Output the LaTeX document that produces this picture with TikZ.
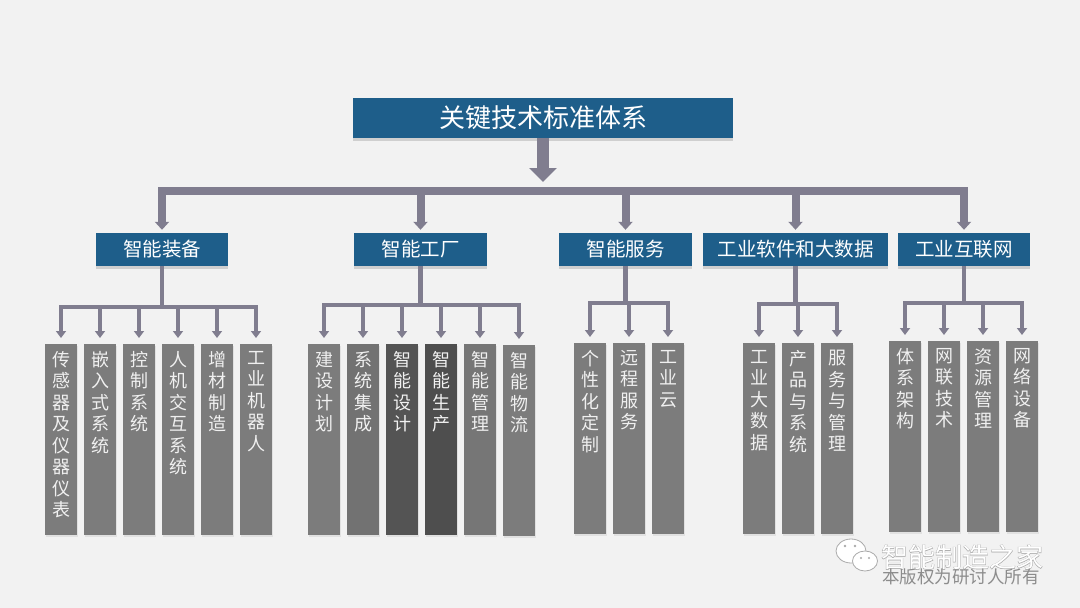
\documentclass[tikz,border=0pt]{standalone}
\usepackage{fontspec}
\setmainfont{Noto Sans CJK SC}
\newfontfamily\wmfat[FakeBold=2.5]{Noto Sans CJK SC}
\usetikzlibrary{arrows.meta,shadows}
\definecolor{bg}{RGB}{242,242,242}
\definecolor{navy}{RGB}{30,94,138}
\definecolor{conn}{RGB}{128,125,143}
\definecolor{leafg}{RGB}{124,124,124}
\definecolor{leafm}{RGB}{114,114,114}
\definecolor{leafd}{RGB}{84,84,84}
\definecolor{leafe}{RGB}{78,78,78}
\definecolor{ltext}{RGB}{240,240,240}
\definecolor{wmgray}{RGB}{170,170,170}
\definecolor{wmtext}{RGB}{140,140,140}
\begin{document}
\begin{tikzpicture}[x=1pt,y=-1pt,
  topbox/.style={fill=navy, text=white, minimum width=380pt, minimum height=40pt,
    inner sep=0pt, font=\fontsize{26}{30}\selectfont,
    drop shadow={opacity=0.3, shadow xshift=0pt, shadow yshift=-3pt}},
  lonebox/.style={fill=navy, text=white, minimum height=33pt, inner sep=0pt,
    font=\fontsize{19.5}{22}\selectfont,
    drop shadow={opacity=0.3, shadow xshift=0pt, shadow yshift=-3pt}},
  leaf/.style={fill=leafg, minimum width=32pt, minimum height=191pt, inner sep=0pt, anchor=north,
    drop shadow={opacity=0.15, shadow xshift=1pt, shadow yshift=-2pt}},
  leaftext/.style={anchor=north, text=ltext, align=center, inner sep=0pt, yshift=-7pt,
    font=\fontsize{18}{21.5}\selectfont},
  bigarrow/.style={draw=conn, line width=12pt, -{Triangle[width=27pt,length=14pt]}},
  mainbus/.style={draw=conn, line width=8pt, line cap=rect},
  onedrop/.style={draw=conn, line width=8pt, -{Triangle[width=14pt,length=8pt]}},
  stem/.style={draw=conn, line width=4.5pt},
  subbus/.style={draw=conn, line width=4.5pt, line cap=rect},
  twodrop/.style={draw=conn, line width=4pt, -{Triangle[width=10pt,length=7pt]}},
]
% background
\fill[bg] (0,0) rectangle (1080,608);
\useasboundingbox (0,0) rectangle (1080,608);

% top
\node[topbox] (top) at (543,118) {关键技术标准体系};
\coordinate (mainTip) at (543,182);
\draw[bigarrow] (top.south) -- (mainTip);

% level 1
\node[lonebox, minimum width=132pt] (L1) at (162,249.5) {智能装备};
\node[lonebox, minimum width=133pt] (L2) at (420.5,249.5) {智能工厂};
\node[lonebox, minimum width=133pt] (L3) at (625.5,249.5) {智能服务};
\node[lonebox, minimum width=185pt] (L4) at (795.5,249.5) {工业软件和大数据};
\node[lonebox, minimum width=132pt] (L5) at (964,249.5) {工业互联网};

\coordinate (mbus) at (0,190.5);
\draw[mainbus] (L1.north |- mbus) -- (L5.north |- mbus);
\foreach \n in {L1,L2,L3,L4,L5}{
  \draw[onedrop] (\n.north |- mbus) -- ([yshift=3pt]\n.north);
}

% group 1
\node[leaf] (a1) at (61,344) {};
\node[leaf] (a2) at (100,344) {};
\node[leaf] (a3) at (139,344) {};
\node[leaf] (a4) at (178,344) {};
\node[leaf] (a5) at (217,344) {};
\node[leaf] (a6) at (256,344) {};
\node[leaftext] (ta1) at (a1.north) {传\\感\\器\\及\\仪\\器\\仪\\表};
\node[leaftext] (ta2) at (a2.north) {嵌\\入\\式\\系\\统};
\node[leaftext] (ta3) at (a3.north) {控\\制\\系\\统};
\node[leaftext] (ta4) at (a4.north) {人\\机\\交\\互\\系\\统};
\node[leaftext] (ta5) at (a5.north) {增\\材\\制\\造};
\node[leaftext] (ta6) at (a6.north) {工\\业\\机\\器\\人};
\coordinate (g1bus) at (0,307);
\draw[stem] (L1.south) -- (L1.south |- g1bus);
\draw[subbus] (a1.north |- g1bus) -- (a6.north |- g1bus);
\foreach \n in {a1,a2,a3,a4,a5,a6}{
  \draw[twodrop] (\n.north |- g1bus) -- ([yshift=6pt]\n.north);
}

% group 2
\node[leaf, fill=leafg] (b1) at (324,344) {};
\node[leaf, fill=leafm] (b2) at (363,344) {};
\node[leaf, fill=leafd] (b3) at (402,344) {};
\node[leaf, fill=leafe] (b4) at (441,344) {};
\node[leaf, fill=leafm!60!leafg] (b5) at (480,344) {};
\node[leaf, fill=leafg] (b6) at (519,345) {};
\node[leaftext] (tb1) at (b1.north) {建\\设\\计\\划};
\node[leaftext] (tb2) at (b2.north) {系\\统\\集\\成};
\node[leaftext] (tb3) at (b3.north) {智\\能\\设\\计};
\node[leaftext] (tb4) at (b4.north) {智\\能\\生\\产};
\node[leaftext] (tb5) at (b5.north) {智\\能\\管\\理};
\node[leaftext] (tb6) at (b6.north) {智\\能\\物\\流};
\coordinate (g2bus) at (0,305);
\draw[stem] (L2.south) -- (L2.south |- g2bus);
\draw[subbus] (b1.north |- g2bus) -- (b6.north |- g2bus);
\foreach \n in {b1,b2,b3,b4,b5,b6}{
  \draw[twodrop] (\n.north |- g2bus) -- ([yshift=6pt]\n.north);
}

% group 3
\node[leaf] (c1) at (590,343) {};
\node[leaf] (c2) at (629,343) {};
\node[leaf] (c3) at (668,343) {};
\node[leaftext] (tc1) at (c1.north) {个\\性\\化\\定\\制};
\node[leaftext] (tc2) at (c2.north) {远\\程\\服\\务};
\node[leaftext] (tc3) at (c3.north) {工\\业\\云};
\coordinate (g3bus) at (0,303);
\draw[stem] (L3.south) -- (L3.south |- g3bus);
\draw[subbus] (c1.north |- g3bus) -- (c3.north |- g3bus);
\foreach \n in {c1,c2,c3}{
  \draw[twodrop] (\n.north |- g3bus) -- ([yshift=6pt]\n.north);
}

% group 4
\node[leaf] (d1) at (759,343) {};
\node[leaf] (d2) at (798,343) {};
\node[leaf] (d3) at (837,343) {};
\node[leaftext] (td1) at (d1.north) {工\\业\\大\\数\\据};
\node[leaftext] (td2) at (d2.north) {产\\品\\与\\系\\统};
\node[leaftext] (td3) at (d3.north) {服\\务\\与\\管\\理};
\coordinate (g4bus) at (0,304);
\draw[stem] (L4.south) -- (L4.south |- g4bus);
\draw[subbus] (d1.north |- g4bus) -- (d3.north |- g4bus);
\foreach \n in {d1,d2,d3}{
  \draw[twodrop] (\n.north |- g4bus) -- ([yshift=6pt]\n.north);
}

% group 5
\node[leaf] (e1) at (905,341) {};
\node[leaf] (e2) at (944,341) {};
\node[leaf] (e3) at (983,341) {};
\node[leaf] (e4) at (1022,341) {};
\node[leaftext] (te1) at (e1.north) {体\\系\\架\\构};
\node[leaftext] (te2) at (e2.north) {网\\联\\技\\术};
\node[leaftext] (te3) at (e3.north) {资\\源\\管\\理};
\node[leaftext] (te4) at (e4.north) {网\\络\\设\\备};
\coordinate (g5bus) at (0,303);
\draw[stem] (L5.south) -- (L5.south |- g5bus);
\draw[subbus] (e1.north |- g5bus) -- (e4.north |- g5bus);
\foreach \n in {e1,e2,e3,e4}{
  \draw[twodrop] (\n.north |- g5bus) -- ([yshift=6pt]\n.north);
}

% watermark
\begin{scope}[draw=wmgray, fill=white, line width=0.8pt]
  \filldraw (851,551) ellipse [x radius=15, y radius=12];
  \filldraw (865,561) ellipse [x radius=12.5, y radius=10];
  \fill[wmgray] (845,546) circle (1.3);
  \fill[wmgray] (855,546) circle (1.3);
  \fill[wmgray] (861,558) circle (1.1);
  \fill[wmgray] (869,558) circle (1.1);
\end{scope}
\node[text=wmgray, inner sep=0pt, font=\wmfat\fontsize{27}{30}\selectfont] (wmo) at (962,557) {智能制造之家};
\node[text=white, inner sep=0pt, font=\fontsize{27}{30}\selectfont] (wm) at (962,557) {智能制造之家};
\node[text=wmtext, inner sep=0pt, font=\fontsize{17.5}{20}\selectfont] (wm2) at (961,577) {本版权为研讨人所有};
\end{tikzpicture}
\end{document}
